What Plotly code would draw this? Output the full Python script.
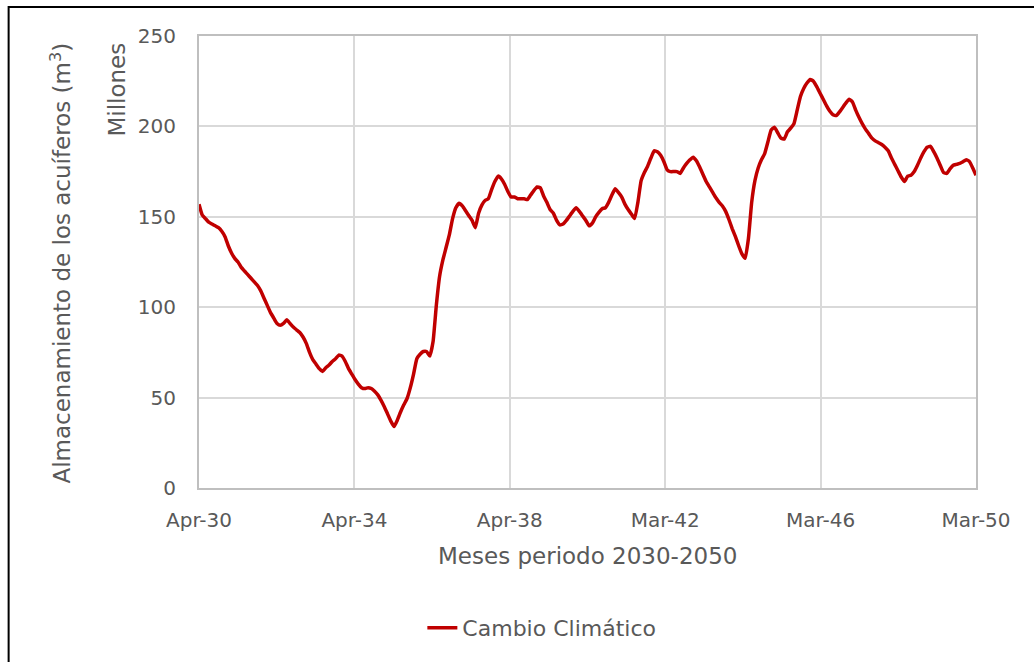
import plotly.graph_objects as go

# Monthly aquifer storage, April 2030 - March 2050 (millions of m3)
storage_millions = [
    157, 151, 149, 147, 146, 145, 144, 142, 139, 134,
    130, 127, 125, 122, 120, 118, 116, 114, 112, 109,
    105, 101, 97, 94, 91, 90, 91, 93, 91, 89,
    87.5, 86, 83.5, 80, 75, 71, 68.5, 66, 64.5, 66.5,
    68, 70, 71.5, 73.5, 73, 70, 66, 63, 60, 57.5,
    55.5, 55, 55.5, 55, 53.5, 51.5, 48.5, 45, 41, 37,
    34, 37.5, 42, 46, 49.5, 55.5, 63, 71.5, 74, 75.5,
    75.5, 73, 81, 101, 117, 126, 133, 140, 149, 155,
    157.5, 156, 153.3, 150.6, 148, 144, 152, 156.5, 159, 160,
    165, 169.5, 172.5, 171, 168, 164, 161, 161, 160, 160,
    160, 159.5, 162, 164.5, 166.5, 166, 161.5, 158, 154, 152,
    148, 145.5, 146, 148, 150.5, 153, 155, 153, 150.5, 148,
    145, 146.5, 150, 152.5, 154.5, 155, 158, 162, 165.5, 163.5,
    161, 157, 154, 151.5, 149, 158, 170, 174.5, 178, 182.5,
    186.5, 186, 184, 180.5, 176, 175, 175, 175, 174, 177,
    179.5, 181.5, 183, 181, 177.5, 173.5, 169.5, 166.5, 163.5, 160.5,
    158, 156, 153, 148.5, 143.5, 139, 134, 129.5, 127, 138,
    158, 170, 177, 181.5, 185, 191.5, 198, 199.5, 196.5, 193.5,
    193, 197, 199, 201.5, 209, 216.5, 221, 224, 226, 225,
    222, 218.5, 215, 211.5, 208.5, 206.5, 206, 208, 210.5, 213,
    215, 213.5, 209, 205, 201.5, 198.5, 196, 193.5, 192, 191,
    190, 188.5, 186.5, 182.5, 179, 175.5, 172, 169.5, 172.5, 173,
    175, 178.5, 182.5, 186, 188.5, 189, 186, 182.5, 178.5, 174.5,
    174, 176.5, 178.5, 179, 179.5, 180.5, 181.5, 180.5, 177, 173,
]
month_index = list(range(len(storage_millions)))

x_tick_labels = ["Apr-30", "Apr-34", "Apr-38", "Mar-42", "Mar-46", "Mar-50"]
y_tick_values = [0, 50, 100, 150, 200, 250]

series_name = "Cambio Climático"
line_color = "#C00000"
text_color = "#595959"
font_family = "DejaVu Sans, Open Sans, sans-serif"

W, H = 1034, 662
L, R, T, B = 198.5, 58, 36, 174
plot_w = W - L - R
plot_h = H - T - B


def px_x(p):
    return (p - L) / plot_w


def px_y(p):
    return (H - B - p) / plot_h


last = len(storage_millions) - 1
x_tick_positions = [i * last / (len(x_tick_labels) - 1) for i in range(len(x_tick_labels))]

fig = go.Figure()
fig.add_trace(go.Scatter(
    x=month_index,
    y=storage_millions,
    mode="lines",
    name=series_name,
    line=dict(color=line_color, width=3.5, shape="spline", smoothing=0.4),
    hoverinfo="skip",
))

fig.update_layout(
    width=W,
    height=H,
    margin=dict(l=L, r=R, t=T, b=B, pad=0),
    paper_bgcolor="white",
    plot_bgcolor="white",
    font=dict(family=font_family, color=text_color, size=20),
    showlegend=True,
    legend=dict(
        orientation="h",
        x=px_x(422), y=px_y(628), xanchor="left", yanchor="middle",
        font=dict(size=22, color=text_color),
        bgcolor="rgba(0,0,0,0)",
    ),
    xaxis=dict(
        range=[0, last],
        tickvals=x_tick_positions,
        ticktext=x_tick_labels,
        showgrid=True,
        gridcolor="#d9d9d9",
        gridwidth=1.5,
        showline=True,
        linecolor="#bfbfbf",
        linewidth=2,
        mirror=True,
        ticks="",
        ticklabelstandoff=13,
        tickfont=dict(size=20, color=text_color),
        zeroline=False,
    ),
    yaxis=dict(
        range=[0, 250],
        tickvals=y_tick_values,
        showgrid=True,
        gridcolor="#d9d9d9",
        gridwidth=1.5,
        showline=True,
        linecolor="#bfbfbf",
        linewidth=2,
        mirror=True,
        ticks="",
        ticklabelstandoff=17,
        tickfont=dict(size=20, color=text_color),
        zeroline=False,
    ),
    annotations=[
        dict(
            text="Meses periodo 2030-2050",
            xref="paper", yref="paper",
            x=0.5, y=px_y(556), xanchor="center", yanchor="middle",
            showarrow=False, font=dict(size=23, color=text_color),
        ),
        dict(
            text="Almacenamiento de los acuíferos (m<sup>3</sup>)",
            xref="paper", yref="paper",
            x=px_x(60), y=px_y(263), xanchor="center", yanchor="middle",
            textangle=-90,
            showarrow=False, font=dict(size=23, color=text_color),
        ),
        dict(
            text="Millones",
            xref="paper", yref="paper",
            x=px_x(116), y=px_y(90), xanchor="center", yanchor="middle",
            textangle=-90,
            showarrow=False, font=dict(size=23, color=text_color),
        ),
    ],
    shapes=[
        dict(
            type="rect", xref="paper", yref="paper",
            x0=px_x(8), x1=px_x(1045), y0=px_y(7), y1=px_y(680),
            line=dict(color="black", width=2),
            fillcolor="rgba(0,0,0,0)",
            layer="below",
        ),
    ],
)

fig.write_html("out.html")
